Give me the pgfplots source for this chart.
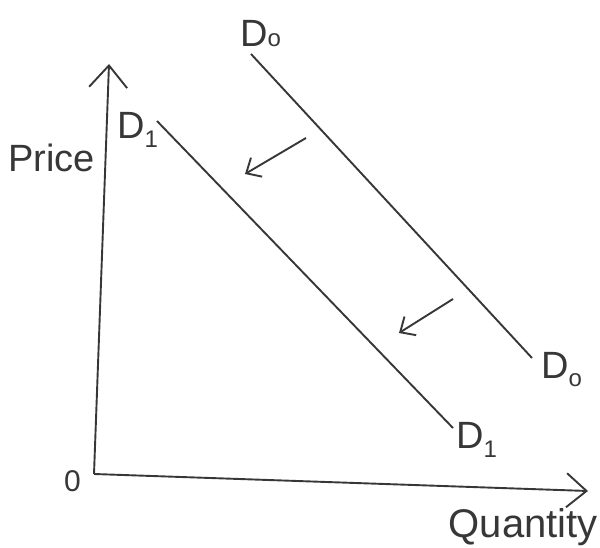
\documentclass[border=0pt]{standalone}
\usepackage{pgfplots}
\pgfplotsset{compat=1.18}
\usepackage{fontspec}
\setmainfont{Liberation Sans}
\usetikzlibrary{arrows.meta}
\definecolor{ink}{RGB}{55,55,55}

\begin{document}
\begin{tikzpicture}
\begin{axis}[
  scale only axis, width=600pt, height=548pt,
  xmin=0, xmax=600, ymin=0, ymax=548, y dir=reverse,
  hide axis, clip=false,
]
\pgfplotsset{ln/.style={draw=ink, solid, line width=1.9pt, mark=none}}
\path (axis cs:0,0) rectangle (axis cs:600,548);
% axes (hand drawn, slightly tilted)
\addplot[ln, -{Straight Barb[length=22pt,width=38pt,line width=1.9pt]}] coordinates {(94,474) (109,64)};
\addplot[ln, -{Straight Barb[length=20pt,width=34pt,line width=1.9pt]}] coordinates {(94,474) (588,491)};
% demand curves
\addplot[ln] coordinates {(251,54) (532,358)};   % D0
\addplot[ln] coordinates {(157,121) (453,428)};  % D1
% shift arrows
\addplot[ln, -{Straight Barb[length=12pt,width=22pt,line width=1.9pt]}] coordinates {(306,138) (245,174)};
\addplot[ln, -{Straight Barb[length=12pt,width=22pt,line width=1.9pt]}] coordinates {(453,299) (399,333)};
% labels
\begin{scope}[every node/.style={text=ink, inner sep=0pt}]
\node[anchor=base west] at (axis cs:240,47) {\fontsize{38}{38}\selectfont D\fontsize{24}{24}\selectfont o};
\node[anchor=base west] at (axis cs:117,139) {\fontsize{38}{38}\selectfont D\raisebox{-9pt}{\fontsize{24}{24}\selectfont 1}};
\node[anchor=base west] at (axis cs:541,378) {\fontsize{38}{38}\selectfont D\raisebox{-8pt}{\fontsize{24}{24}\selectfont o}};
\node[anchor=base west] at (axis cs:456,448) {\fontsize{38}{38}\selectfont D\raisebox{-9pt}{\fontsize{24}{24}\selectfont 1}};
\node[anchor=base west] at (axis cs:8,172) {\fontsize{38}{38}\selectfont Price};
\node[anchor=base west] at (axis cs:64,491) {\fontsize{30}{30}\selectfont 0};
\node[anchor=base east] at (axis cs:598,537) {\fontsize{40}{40}\selectfont Quantity};
\end{scope}
\end{axis}
\end{tikzpicture}
\end{document}
